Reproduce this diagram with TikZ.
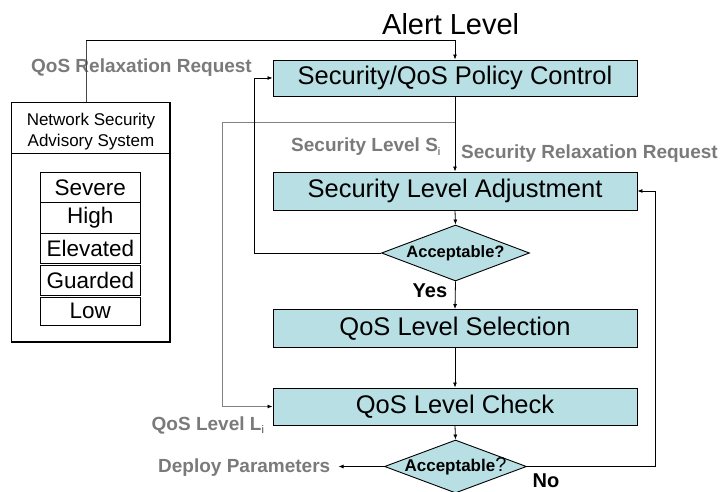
\documentclass[tikz,border=0pt]{standalone}
\usepackage{fontspec}
\setmainfont{Liberation Sans}
\usetikzlibrary{shapes.geometric,arrows.meta}
\definecolor{boxfill}{RGB}{184,223,227}
\definecolor{lblgray}{RGB}{122,122,122}
\definecolor{linegray}{RGB}{130,130,130}
\definecolor{dkgray}{RGB}{70,70,70}
\newcommand{\subi}{\raisebox{-3.5pt}[0pt][0pt]{\fontsize{11}{11}\selectfont\mdseries\color{dkgray}i}}
\begin{document}
\begin{tikzpicture}[x=1pt,y=-1pt,
  procbox/.style={draw=black, line width=0.9pt, fill=boxfill, minimum width=364pt, inner sep=0pt, font=\fontsize{25.5}{28}\selectfont},
  decision/.style={diamond, aspect=2.5, draw=black, fill=boxfill, line width=0.9pt, inner sep=0pt, font=\bfseries\fontsize{16.5}{18}\selectfont},
  arr/.style={-{Latex[length=5pt,width=4pt,color=black]}, line width=0.8pt},
  graylabel/.style={text=lblgray, font=\bfseries\fontsize{19}{21}\selectfont, inner sep=0pt},
  blacklabel/.style={text=black, font=\bfseries\fontsize{20}{22}\selectfont, inner sep=0pt},
  lvl/.style={draw=black, line width=0.9pt, minimum width=100pt, inner sep=0pt, font=\fontsize{22.5}{24}\selectfont},
  nsastext/.style={inner sep=0pt, font=\fontsize{17}{20}\selectfont}
]
\useasboundingbox (0,0) rectangle (720,492);

% main boxes
\node[procbox, minimum height=36pt] (b1) at (455,78) {Security/QoS Policy Control};
\node[procbox, minimum height=38pt] (b2) at (455,191) {Security Level Adjustment};
\node[procbox, minimum height=38pt] (b3) at (455,328.5) {QoS Level Selection};
\node[procbox, minimum height=37pt] (b4) at (455,406.5) {QoS Level Check};
\node[decision, minimum width=148pt, minimum height=56pt] (d1) at (455.5,253) {\makebox[40pt]{Acceptable?}};
\node[decision, minimum width=142pt, minimum height=53pt] (d2) at (455.5,466.5) {\makebox[40pt]{\raisebox{-1.5pt}{\fontsize{17}{18}\selectfont Acceptable\mdseries\fontsize{20}{20}\selectfont ?}}};

% advisory system
\node[draw=black, line width=1.1pt, minimum width=158.3pt, minimum height=239.7pt, inner sep=0pt] (nsas) at (90.85,222.15) {};
\draw[line width=0.9pt] (nsas.north west) ++(0,52) -- ++(158.3,0);
\node[nsastext, anchor=base] (nsas1) at (91,125) {Network Security};
\node[nsastext, anchor=base] (nsas2) at (91,146.7) {Advisory System};
\node[lvl, minimum height=30pt] (sev) at (90.3,187.3) {Severe};
\node[lvl, minimum height=30.7pt] (high) at (90.3,217.6) {High};
\node[lvl, minimum height=30.3pt] (elev) at (90.3,248.2) {Elevated};
\node[lvl, minimum height=30.3pt] (guard) at (90.3,280.1) {Guarded};
\node[lvl, minimum height=28.3pt] (low) at (90.3,311.1) {Low};

% labels
\node[inner sep=0pt, font=\fontsize{29}{30}\selectfont, anchor=base west] (alert) at (382,35) {Alert Level};
\node[graylabel, anchor=base] (qrr) at (141.5,72.3) {QoS Relaxation Request};
\node[graylabel, anchor=base west] (sli) at (291,151.7) {Security Level S\subi};
\node[graylabel, anchor=base west] (srr) at (461,158.3) {Security Relaxation Request};
\node[graylabel, anchor=base west] (qli) at (151.5,430) {QoS Level L\subi};
\node[graylabel, anchor=base east] (deploy) at (330.5,472.7) {Deploy Parameters};
\node[blacklabel, anchor=base west] (yes) at (412.5,297.7) {Yes};
\node[blacklabel, anchor=base west] (no) at (532.5,487.3) {No};

% connectors
\coordinate (topL) at (86,40);
\coordinate (grayx) at (222,122.3);
\coordinate (loopx) at (254.3,0);
\coordinate (rightx) at (655,0);
\draw[dkgray, line width=0.9pt] (nsas.north -| topL) -- (topL);
\draw[arr] (topL) -- (b1.north |- topL) -- (b1.north);
\draw[arr] (b1.south) -- (b2.north);
\draw[arr, linegray] (b1.south |- grayx) -- (grayx) |- (b4.west);
\draw[arr] (b2.south) -- (d1.north);
\draw[arr] (d1.west) -- (d1.west -| loopx) |- (b1.west);
\draw[arr] (d1.south) -- (b3.north);
\draw[arr] (b3.south) -- (b4.north);
\draw[arr] (b4.south) -- (d2.north);
\draw[arr, shorten >=8pt] (d2.west) -- (d2.west -| deploy.east);
\draw[arr] (d2.east) -- (d2.east -| rightx) |- (b2.east);
\end{tikzpicture}
\end{document}
